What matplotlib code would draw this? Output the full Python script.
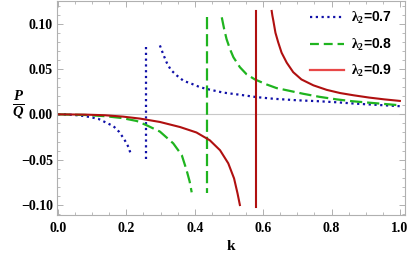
import matplotlib
matplotlib.use('Agg')
import matplotlib.pyplot as plt
from matplotlib.lines import Line2D
from matplotlib.ticker import MultipleLocator

plt.rcParams['mathtext.fontset'] = 'custom'
plt.rcParams['mathtext.rm'] = 'Liberation Serif'
plt.rcParams['mathtext.bf'] = 'Liberation Serif:bold'
plt.rcParams['mathtext.it'] = 'Liberation Serif:italic'
plt.rcParams['mathtext.bfit'] = 'Liberation Serif:bold:italic'

# lambda_2 = 0.7 (blue, dotted)
k07_left = [0.0, 0.016, 0.045, 0.069, 0.094, 0.118, 0.140, 0.162, 0.178, 0.193, 0.206, 0.213]
v07_left = [0.0, 0.0, -0.0006, -0.0015, -0.003, -0.005, -0.009, -0.013, -0.019, -0.027, -0.036, -0.044]
k07_pole = 0.256
v07_pole = [0.074, -0.049]
k07_right = [0.298, 0.303, 0.308, 0.318, 0.330, 0.347, 0.367, 0.391, 0.415, 0.435, 0.483, 0.532,
             0.581, 0.630, 0.70, 0.76, 0.815, 0.87, 0.93, 1.0]
v07_right = [0.076, 0.071, 0.066, 0.057, 0.049, 0.043, 0.037, 0.0337, 0.030, 0.028, 0.024, 0.0216,
             0.019, 0.0172, 0.0155, 0.0145, 0.0133, 0.0118, 0.0105, 0.009]

# lambda_2 = 0.8 (green, dashed)
k08_left = [0.0, 0.08, 0.137, 0.186, 0.230, 0.259, 0.298, 0.337, 0.362, 0.376, 0.385, 0.391]
v08_left = [0.0, -0.0007, -0.002, -0.004, -0.0073, -0.012, -0.019, -0.032, -0.045, -0.0615, -0.074, -0.086]
k08_pole = 0.435
v08_pole = [0.107, -0.0865]
k08_right = [0.479, 0.486, 0.493, 0.503, 0.513, 0.532, 0.552, 0.576, 0.610, 0.639, 0.68, 0.717,
             0.765, 0.815, 0.86, 0.912, 1.0]
v08_right = [0.107, 0.094, 0.083, 0.072, 0.063, 0.052, 0.044, 0.0385, 0.033, 0.029, 0.0257, 0.0227,
             0.0193, 0.0165, 0.0145, 0.0128, 0.010]

# lambda_2 = 0.9 (red, solid)
k09_left = [0.0, 0.08, 0.137, 0.190, 0.240, 0.298, 0.357, 0.405, 0.444, 0.474, 0.498, 0.515, 0.525, 0.532]
v09_left = [0.0, -0.0003, -0.001, -0.0025, -0.0047, -0.0084, -0.014, -0.020, -0.0286, -0.0396,
            -0.054, -0.0707, -0.087, -0.100]
k09_pole = 0.578
v09_pole = [0.114, -0.102]
k09_right = [0.625, 0.627, 0.630, 0.636, 0.644, 0.654, 0.669, 0.688, 0.712, 0.747, 0.786, 0.825,
             0.865, 0.91, 0.955, 1.0]
v09_right = [0.114, 0.109, 0.103, 0.090, 0.0795, 0.068, 0.057, 0.0465, 0.0385, 0.032, 0.027, 0.0235,
             0.021, 0.0185, 0.0165, 0.0148]

labels = [r'$\mathbf{\lambda_2}$=0.7', r'$\mathbf{\lambda_2}$=0.8', r'$\mathbf{\lambda_2}$=0.9']

blue = '#1010a8'
green = '#1fb41f'
red = '#b01010'

fig = plt.figure(figsize=(4.09, 2.56), dpi=100)
ax = fig.add_axes([57 / 409, 41 / 256, 348 / 409, 214 / 256])

ax.axhline(0, color='#c8c8c8', lw=0.8, zorder=0)

dot = dict(color=blue, lw=1.6, linestyle=(0, (1.0, 1.6)))
dash = dict(color=green, lw=1.6, linestyle=(0, (5.5, 2.2)))
solid = dict(color=red, lw=1.5)

ax.plot(k07_left, v07_left, **dot)
ax.plot([k07_pole, k07_pole], v07_pole, **dot)
ax.plot(k07_right, v07_right, **dot)

ax.plot(k08_left, v08_left, **dash)
ax.plot([k08_pole, k08_pole], v08_pole, **dash)
ax.plot(k08_right, v08_right, **dash)

ax.plot(k09_left, v09_left, **solid)
ax.plot([k09_pole, k09_pole], v09_pole, **solid)
ax.plot(k09_right, v09_right, **solid)

ax.set_xlim(-0.003, 1.015)
ax.set_ylim(-0.111, 0.125)

ax.xaxis.set_major_locator(MultipleLocator(0.2))
ax.xaxis.set_minor_locator(MultipleLocator(0.05))
ax.yaxis.set_major_locator(MultipleLocator(0.05))
ax.yaxis.set_minor_locator(MultipleLocator(0.01))
ax.tick_params(which='both', direction='in', top=True, right=True, color='#b0b0b0')
ax.tick_params(which='major', length=4, width=0.7)
ax.tick_params(which='minor', length=2, width=0.6)
for s in ax.spines.values():
    s.set_color('#b0b0b0')
    s.set_linewidth(0.8)

tfont = dict(family='Liberation Serif', weight='bold', size=10)
ax.set_xticks([0.0, 0.2, 0.4, 0.6, 0.8, 1.0])
ax.set_xticklabels(['0.0', '0.2', '0.4', '0.6', '0.8', '1.0'], **tfont)
ax.set_yticks([-0.10, -0.05, 0.0, 0.05, 0.10])
ax.set_yticklabels(['\u22120.10', '\u22120.05', '0.00', '0.05', '0.10'], **tfont)
ax.tick_params(axis='x', pad=5)
ax.tick_params(axis='y', pad=3)

ax.set_xlabel('k', family='Liberation Serif', weight='bold', size=11, labelpad=4)
ax.set_ylabel(r'$\frac{\mathbfit{P}}{\mathbfit{Q}}$', rotation=0, size=15, labelpad=8, va='center')
ax.yaxis.set_label_coords(-0.11, 0.515)

handles = [Line2D([], [], **dot),
           Line2D([], [], color=green, lw=1.6, linestyle=(0, (4.0, 2.2))),
           Line2D([], [], color='#e84848', lw=1.6)]
leg = ax.legend(handles, labels, loc='upper right', bbox_to_anchor=(1.0, 1.015), frameon=False,
                prop=dict(family='Liberation Sans', weight='bold', size=10),
                handlelength=2.5, handletextpad=0.5, labelspacing=0.75)

fig.savefig('out.png', dpi=100)
